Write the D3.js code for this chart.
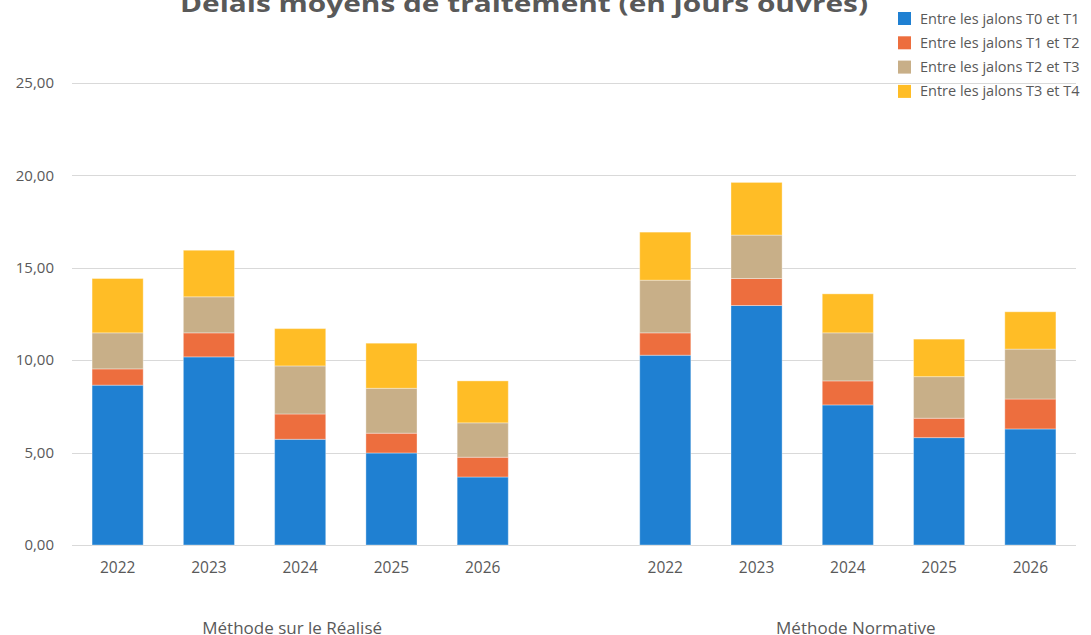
<!DOCTYPE html>
<html>
<head>
<meta charset="utf-8">
<script src="https://cdn.jsdelivr.net/npm/d3@7"></script>
<style>
  html, body { margin: 0; padding: 0; background: #fff; }
  svg { display: block; font-family: "Open Sans", "Noto Sans", sans-serif; }
</style>
</head>
<body>
<div id="chart"></div>
<script>
const groups = ['Méthode sur le Réalisé', 'Méthode Normative'];
const years = ['2022', '2023', '2024', '2025', '2026'];
const seriesNames = [
  'Entre les jalons T0 et T1',
  'Entre les jalons T1 et T2',
  'Entre les jalons T2 et T3',
  'Entre les jalons T3 et T4'
];
const seriesColors = ['#1f80d2', '#ed6e3e', '#c8af88', '#ffbd26'];
// values per group, per year: [T0-T1, T1-T2, T2-T3, T3-T4]
const realise = [
  [8.65, 0.88, 1.95, 2.94],
  [10.18, 1.30, 1.95, 2.52],
  [5.72, 1.37, 2.60, 2.02],
  [4.98, 1.07, 2.43, 2.44],
  [3.68, 1.07, 1.86, 2.27]
];
const normative = [
  [10.27, 1.21, 2.85, 2.60],
  [12.96, 1.46, 2.35, 2.85],
  [7.58, 1.30, 2.60, 2.11],
  [5.81, 1.05, 2.25, 2.03],
  [6.28, 1.62, 2.70, 2.02]
];
const yTicks = [0, 5, 10, 15, 20, 25];

const W = 1091, H = 635;
const m = { left: 72, right: 15, top: 83, bottom: 90 };

// flatten into rows with a blank slot between groups
const rows = [];
[realise, normative].forEach((vals, gi) => {
  vals.forEach((v, i) => rows.push({ key: gi + '-' + years[i], year: years[i], group: gi, vals: v }));
  if (gi === 0) rows.push({ key: 'gap', year: '', group: -1, vals: null });
});

const x = d3.scaleBand().domain(rows.map((r) => r.key)).range([m.left, W - m.right]).paddingInner(0.44).paddingOuter(0.22);
const y = d3.scaleLinear().domain([0, 25]).range([H - m.bottom, m.top]);

const svg = d3.select('#chart').append('svg').attr('width', W).attr('height', H);

// gridlines
svg.append('g')
  .selectAll('line')
  .data(yTicks)
  .join('line')
  .attr('x1', m.left)
  .attr('x2', W - m.right)
  .attr('y1', (d) => Math.round(y(d)) + 0.5)
  .attr('y2', (d) => Math.round(y(d)) + 0.5)
  .attr('stroke', '#d9d9d9')
  .attr('stroke-width', 1);

// y labels
svg.append('g')
  .selectAll('text')
  .data(yTicks)
  .join('text')
  .attr('x', 54)
  .attr('y', (d) => y(d))
  .attr('dy', '0.35em')
  .attr('text-anchor', 'end')
  .attr('fill', '#595959')
  .attr('font-size', '15px')
  .text((d) => d3.format('.2f')(d).replace('.', ','));

// stacked bars
const stack = d3.stack().keys([0, 1, 2, 3]).value((r, k) => r.vals[k]);
const stacked = stack(rows.filter((r) => r.vals));

svg.append('g')
  .selectAll('g')
  .data(stacked)
  .join('g')
  .attr('fill', (d, i) => seriesColors[i])
  .selectAll('rect')
  .data((d) => d)
  .join('rect')
  .attr('x', (d) => x(d.data.key))
  .attr('width', x.bandwidth())
  .attr('y', (d) => y(d[1]))
  .attr('height', (d) => y(d[0]) - y(d[1]))
  .attr('stroke', 'rgba(255,255,255,0.35)')
  .attr('stroke-width', 1);

// year labels
svg.append('g')
  .selectAll('text')
  .data(rows.filter((r) => r.vals))
  .join('text')
  .attr('x', (d) => x(d.key) + x.bandwidth() / 2)
  .attr('y', 568)
  .attr('dy', '0.35em')
  .attr('text-anchor', 'middle')
  .attr('fill', '#595959')
  .attr('font-size', '15.5px')
  .text((d) => d.year);

// group labels
svg.append('g')
  .selectAll('text')
  .data(groups)
  .join('text')
  .attr('x', (g, gi) => {
    const ks = rows.filter((r) => r.group === gi);
    return (x(ks[0].key) + x(ks[ks.length - 1].key) + x.bandwidth()) / 2 - (gi === 0 ? 8 : -8);
  })
  .attr('y', 634)
  .attr('text-anchor', 'middle')
  .attr('fill', '#595959')
  .attr('font-size', '17px')
  .text((d) => d);

// title
svg.append('text')
  .attr('x', 524)
  .attr('y', 12)
  .attr('text-anchor', 'middle')
  .attr('fill', '#595959')
  .attr('font-size', '24px')
  .attr('font-weight', '700')
  .attr('textLength', 688)
  .attr('lengthAdjust', 'spacingAndGlyphs')
  .text('Délais moyens de traitement (en jours ouvrés)');

// legend
const lg = svg.append('g')
  .selectAll('g')
  .data(seriesNames)
  .join('g')
  .attr('transform', (d, i) => `translate(898,${18.5 + i * 24.3})`);
lg.append('rect')
  .attr('x', 0)
  .attr('y', -6.5)
  .attr('width', 13)
  .attr('height', 13)
  .attr('fill', (d, i) => seriesColors[i]);
lg.append('text')
  .attr('x', 22)
  .attr('dy', '0.35em')
  .attr('fill', '#595959')
  .attr('font-size', '14.5px')
  .text((d) => d);
</script>
</body>
</html>
